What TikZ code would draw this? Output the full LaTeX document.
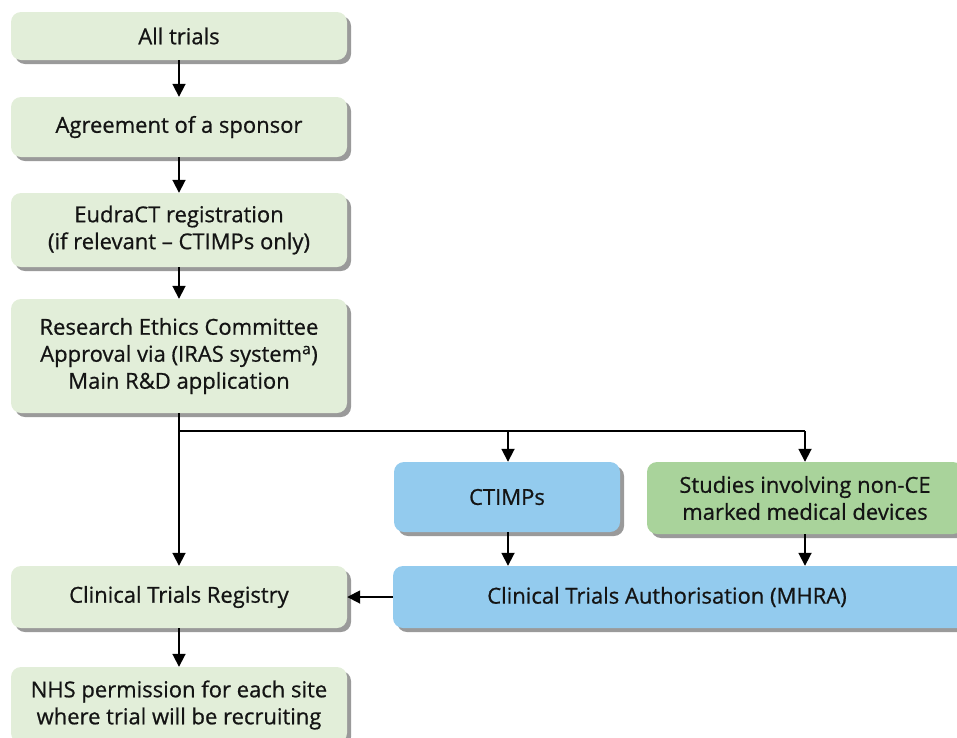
\documentclass[tikz,border=0pt]{standalone}
\usepackage{fontspec}
\setmainfont[FakeBold=0.7]{Open Sans}
\usetikzlibrary{arrows.meta,shadows}
\definecolor{lgreen}{HTML}{E2EED9}
\definecolor{lblue}{HTML}{93CBEE}
\definecolor{mgreen}{HTML}{A9D39B}
\definecolor{shad}{HTML}{9A9A9A}
\definecolor{txt}{HTML}{141414}
\begin{document}
\begin{tikzpicture}[x=1pt,y=-1pt,
  box/.style={rounded corners=10pt, align=center, inner sep=0pt, text=txt,
    font=\fontsize{22}{27}\selectfont,
    drop shadow={shadow xshift=4pt, shadow yshift=-4pt, fill=shad, opacity=1}},
  gbox/.style={box, fill=lgreen},
  bbox/.style={box, fill=lblue},
  mbox/.style={box, fill=mgreen},
  arr/.style={line width=1.8pt, -{Triangle[length=13pt,width=13pt]}},
  ln/.style={line width=1.8pt}]
\useasboundingbox (0,0) rectangle (957,737);
\clip (0,0) rectangle (957,737);
\node[gbox, minimum width=336pt, minimum height=48pt] (all) at (179,36) {All trials};
\node[gbox, minimum width=336pt, minimum height=60pt] (spon) at (179,127) {Agreement of a sponsor};
\node[gbox, minimum width=336pt, minimum height=74pt] (eudra) at (179,230) {EudraCT registration\\(if relevant -- CTIMPs only)};
\node[gbox, minimum width=336pt, minimum height=114pt] (rec) at (179,356) {Research Ethics Committee\\Approval via (IRAS system\textsuperscript{a})\\Main R\&D application};
\node[bbox, minimum width=226pt, minimum height=70pt] (ctimp) at (507,497) {CTIMPs};
\node[mbox, minimum width=316pt, minimum height=72pt] (stud) at (805,498) {Studies involving non-CE\\marked medical devices};
\node[bbox, minimum width=580pt, minimum height=62pt] (mhra) at (683,597) {\hspace*{-32pt}Clinical Trials Authorisation (MHRA)};
\node[gbox, minimum width=336pt, minimum height=62pt] (reg) at (179,597) {Clinical Trials Registry};
\node[gbox, minimum width=336pt, minimum height=76pt] (nhs) at (179,705) {NHS permission for each site\\where trial will be recruiting};
\coordinate (br) at (179,431);
\coordinate (bc) at (508,431);
\coordinate (bs) at (805,431);
\draw[arr] (all) -- (spon);
\draw[arr] (spon) -- (eudra);
\draw[arr] (eudra) -- (rec);
\draw[arr] (rec) -- (reg);
\draw[ln] (br) -- (bs);
\draw[arr] (bc) -- (bc |- ctimp.north);
\draw[arr] (bs) -- (stud);
\draw[arr] (bc |- ctimp.south) -- (bc |- mhra.north);
\draw[arr] (stud) -- (bs |- mhra.north);
\draw[arr] (mhra) -- (reg);
\draw[arr] (reg) -- (nhs);
\end{tikzpicture}
\end{document}
